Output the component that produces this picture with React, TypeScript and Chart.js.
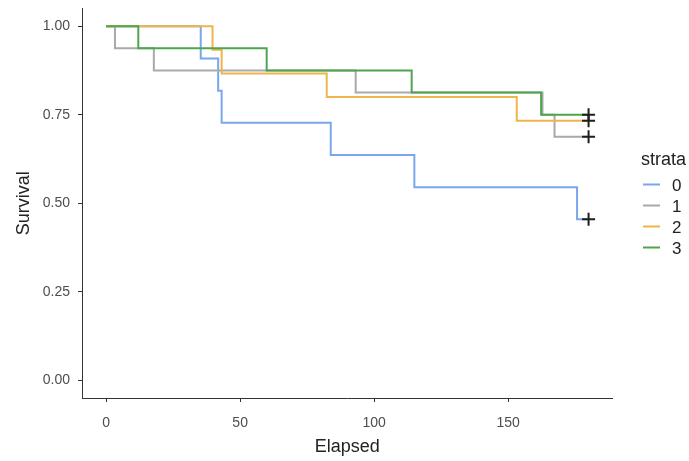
import { useEffect, useRef } from "react";
import { Chart, registerables } from "chart.js";

Chart.register(...registerables);

const FONT = '"Liberation Sans", Arial, sans-serif';

const strata = ["0", "1", "2", "3"];
const strataColors = ["#7aa6ec", "#a9a9a9", "#f0b44c", "#4da64d"];

// Kaplan-Meier step data (time, survival) per stratum
const times0 = [0, 35.3, 41.8, 43.1, 83.8, 115, 175.7, 180];
const surv0 = [1, 0.909, 0.818, 0.727, 0.636, 0.545, 0.4545, 0.4545];

const times1 = [0, 3.3, 17.8, 93.1, 162.8, 167.3, 180];
const surv1 = [1, 0.9375, 0.875, 0.8125, 0.75, 0.6875, 0.6875];

const times2 = [0, 39.7, 43.1, 82.3, 153.2, 180];
const surv2 = [1, 0.9333, 0.8667, 0.8, 0.7333, 0.7333];

const times3 = [0, 12, 59.9, 114, 162.3, 180];
const surv3 = [1, 0.9375, 0.875, 0.8125, 0.75, 0.75];

const censorTimes = [180, 180, 180, 180];
const censorSurv = [0.4545, 0.6875, 0.7333, 0.75];

const xTicks = [0, 50, 100, 150];
const yTicks = [0, 0.25, 0.5, 0.75, 1];

const allTimes = [times0, times1, times2, times3];
const allSurv = [surv0, surv1, surv2, surv3];

const legendPlugin = {
  id: "strataLegend",
  afterDraw(chart: any) {
    const ctx = chart.ctx;
    ctx.save();
    ctx.fillStyle = "#222222";
    ctx.font = `18px ${FONT}`;
    ctx.textAlign = "left";
    ctx.textBaseline = "alphabetic";
    ctx.fillText("strata", 641, 165);
    ctx.font = `17px ${FONT}`;
    ctx.textBaseline = "middle";
    strata.forEach((s, i) => {
      const y = 184.5 + 21 * i;
      ctx.strokeStyle = strataColors[i];
      ctx.lineWidth = 2;
      ctx.beginPath();
      ctx.moveTo(643, y);
      ctx.lineTo(660, y);
      ctx.stroke();
      ctx.fillStyle = "#222222";
      ctx.fillText(s, 672, y + 1.5);
    });
    ctx.restore();
  },
};

export default function App() {
  const ref = useRef<HTMLCanvasElement | null>(null);

  useEffect(() => {
    if (!ref.current) return;
    const lineSets = strata.map((s, i) => ({
      label: s,
      data: allTimes[i].map((t, j) => ({ x: t, y: allSurv[i][j] })),
      borderColor: strataColors[i],
      backgroundColor: strataColors[i],
      borderWidth: 2,
      pointRadius: 0,
      stepped: "before" as const,
      fill: false,
      order: 10 - i,
    }));
    const censorSet = {
      label: "censor",
      data: censorTimes.map((t, j) => ({ x: t, y: censorSurv[j] })),
      showLine: false,
      pointStyle: "cross" as const,
      pointRadius: 6.5,
      pointBorderWidth: 2,
      borderColor: "#1e1e1e",
      backgroundColor: "#1e1e1e",
      order: 0,
    };
    const chart = new Chart(ref.current, {
      type: "line",
      data: { datasets: [...lineSets, censorSet] as any },
      options: {
        animation: false,
        responsive: false,
        devicePixelRatio: 1,
        layout: { padding: { top: 6.75, right: 76.3, left: 0, bottom: 0 } },
        plugins: { legend: { display: false }, tooltip: { enabled: false } },
        scales: {
          x: {
            type: "linear",
            min: -9,
            max: 189,
            afterBuildTicks: (s: any) => {
              s.ticks = xTicks.map((v) => ({ value: v }));
            },
            afterFit: (s: any) => {
              s.height = 63;
              s.paddingLeft = 0;
              s.paddingRight = 0;
            },
            grid: {
              display: true,
              drawOnChartArea: false,
              drawTicks: true,
              tickLength: 4,
              color: "#333333",
              lineWidth: 1,
            },
            border: { display: true, color: "#333333", width: 1 },
            ticks: {
              color: "#4d4d4d",
              font: { family: FONT, size: 14 },
              padding: 13,
              autoSkip: false,
              maxRotation: 0,
              callback: (v: any) => String(v),
            },
            title: {
              display: true,
              text: "Elapsed",
              color: "#222222",
              font: { family: FONT, size: 18 },
              padding: { top: 0, bottom: 3 },
            },
          },
          y: {
            type: "linear",
            min: -0.05,
            max: 1.05,
            afterBuildTicks: (s: any) => {
              s.ticks = yTicks.map((v) => ({ value: v }));
            },
            afterFit: (s: any) => {
              s.width = 82;
              s.paddingTop = 0;
              s.paddingBottom = 0;
            },
            grid: {
              display: true,
              drawOnChartArea: false,
              drawTicks: true,
              tickLength: 4,
              color: "#333333",
              lineWidth: 1,
            },
            border: { display: true, color: "#333333", width: 1 },
            ticks: {
              color: "#4d4d4d",
              font: { family: FONT, size: 14 },
              padding: 8,
              autoSkip: false,
              callback: (v: any) => Number(v).toFixed(2),
            },
            title: {
              display: true,
              text: "Survival",
              color: "#222222",
              font: { family: FONT, size: 18 },
              padding: { top: 13, bottom: 0 },
            },
          },
        },
      },
      plugins: [legendPlugin],
    });
    return () => chart.destroy();
  }, []);

  return (
    <div style={{ position: "absolute", left: 0, top: 0, width: 689, height: 461, background: "#fff" }}>
      <canvas ref={ref} width={689} height={461} style={{ width: 689, height: 461, display: "block" }} />
    </div>
  );
}
